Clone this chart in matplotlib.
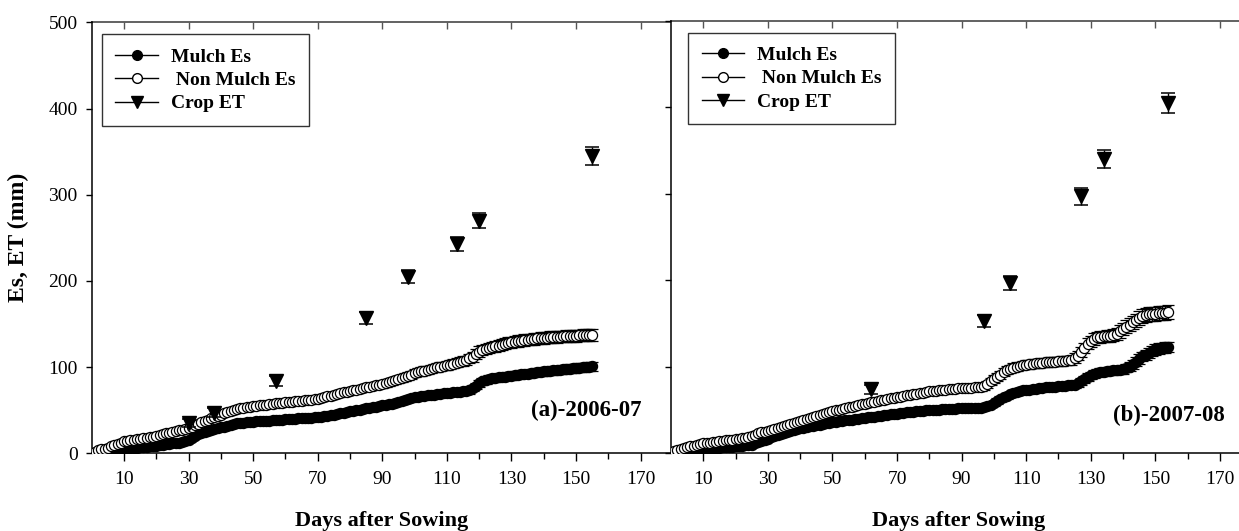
import matplotlib
matplotlib.use("Agg")
import matplotlib.pyplot as plt
from matplotlib.lines import Line2D
import numpy as np

plt.rcParams['font.family'] = ['Liberation Serif', 'DejaVu Serif']

# ---------------- data ----------------
# Panel (a) 2006-07 : daily cumulative soil evaporation (mm), days 1..155
days_a = list(range(1, 156))
mulch_a = [0.5, 1, 1.5, 2, 2.5, 3, 3.5, 4, 4.5, 5,
           5.4, 5.8, 6.2, 6.6, 7, 7.4, 7.8, 8.2, 8.6, 9,
           9.5, 10, 10.5, 11, 11.5, 12, 12.5, 13, 14.2, 16,
           18, 20, 22, 23.6, 25, 26, 27, 28, 29, 30,
           31, 32, 33, 34, 35, 35.4, 35.7, 36, 36.3, 36.6,
           36.9, 37.2, 37.5, 37.8, 38, 38.3, 38.6, 38.9, 39.1, 39.4,
           39.6, 39.9, 40.1, 40.4, 40.6, 40.9, 41.1, 41.4, 41.7, 42,
           42.6, 43.2, 43.8, 44.4, 45, 45.7, 46.4, 47.1, 47.8, 48.5,
           49.2, 49.9, 50.6, 51.3, 52, 52.7, 53.4, 54.1, 54.8, 55.5,
           56.2, 56.9, 57.6, 58.3, 59, 60.2, 61.4, 62.6, 63.8, 65,
           65.6, 66.2, 66.7, 67.2, 67.7, 68.2, 68.7, 69.2, 69.6, 70,
           70.4, 70.8, 71.2, 71.6, 72, 72.5, 73, 75.5, 78, 81,
           83.5, 85, 86, 86.8, 87.5, 88, 88.5, 89, 89.5, 90,
           90.5, 91, 91.5, 92, 92.5, 93, 93.5, 94, 94.5, 95,
           95.4, 95.8, 96.2, 96.6, 97, 97.4, 97.8, 98.2, 98.6, 99,
           99.4, 99.8, 100.2, 100.6, 101]
nonmulch_a = [2, 3.5, 4.5, 5.5, 6.5, 8, 9.5, 11, 12.5, 14,
              14.8, 15.4, 16, 16.5, 17, 17.5, 18, 18.6, 19.3, 20,
              21, 22, 23, 24, 25, 26, 26.8, 27.5, 28.2, 29,
              30.8, 32.5, 34.2, 36, 37.5, 39, 40.5, 42, 43.5, 45,
              46.5, 48, 49.2, 50.3, 51.2, 52, 52.7, 53.3, 54, 54.5,
              55, 55.5, 56, 56.5, 57, 57.4, 57.8, 58.2, 58.6, 59,
              59.4, 59.8, 60.2, 60.6, 61, 61.4, 61.8, 62.2, 62.6, 63,
              64, 65, 66, 67, 68, 69, 70, 70.8, 71.6, 72.4,
              73.2, 74, 74.8, 75.6, 76.4, 77.2, 78, 78.7, 79.4, 80,
              81, 82.2, 83.4, 84.6, 85.8, 87, 88.4, 89.8, 91.2, 92.6,
              94, 95, 96, 97, 98, 98.8, 99.6, 100.4, 101.2, 102,
              103, 104, 105, 106, 107, 108, 110, 112, 115, 118,
              120, 121.2, 122.2, 123.2, 124, 125, 126, 127, 128, 129,
              129.6, 130.2, 130.8, 131.3, 131.8, 132.3, 132.8, 133.2, 133.6, 134,
              134.3, 134.6, 134.9, 135.2, 135.4, 135.6, 135.8, 136, 136.2, 136.5,
              136.7, 136.9, 137.1, 137.3, 137.5]
et_days_a = [30, 38, 57, 85, 98, 113, 120, 155]
et_a = [35, 47, 84, 157, 205, 243, 270, 345]
et_err_a = [5, 5, 6, 7, 8, 8, 9, 10]

# Panel (b) 2007-08 : days 1..154
days_b = list(range(1, 155))
mulch_b = [0.5, 1, 1.5, 2, 2.5, 3, 3.5, 4, 4.5, 5,
           5.3, 5.6, 5.9, 6.2, 6.5, 6.8, 7.1, 7.4, 7.7, 8,
           8.4, 8.8, 9.2, 9.6, 10, 11.4, 12.8, 14.2, 15.6, 17,
           18.4, 19.8, 21.2, 22.6, 24, 25, 26, 27, 28, 29,
           29.7, 30.4, 31.1, 31.8, 32.5, 33.2, 33.9, 34.6, 35.3, 36,
           36.5, 37, 37.5, 38, 38.5, 39, 39.5, 40, 40.5, 41,
           41.5, 42, 42.5, 43, 43.5, 44, 44.5, 45, 45.5, 46,
           46.4, 46.8, 47.2, 47.6, 48, 48.4, 48.8, 49.2, 49.6, 50,
           50.2, 50.4, 50.6, 50.8, 51, 51.2, 51.4, 51.6, 51.8, 52,
           52.1, 52.3, 52.4, 52.6, 52.7, 52.9, 53, 54.5, 56, 58,
           60.5, 62.8, 65, 66.5, 68, 69.5, 70.8, 72, 72.6, 73.2,
           73.7, 74.3, 74.8, 75.4, 76, 76.3, 76.6, 76.9, 77.2, 77.5,
           77.8, 78.1, 78.4, 78.7, 79, 81, 83, 85.5, 88, 90,
           91.2, 92.4, 93.5, 94.3, 95, 95.4, 95.8, 96.2, 96.6, 97,
           98.5, 100, 103, 106, 109, 112, 114, 116, 118, 120,
           121, 121.8, 122.5, 123]
nonmulch_b = [3, 4, 5, 6, 7, 8, 9, 9.8, 10.6, 11.4,
              11.9, 12.4, 12.9, 13.4, 13.9, 14.4, 14.9, 15.4, 15.9, 16.3,
              16.9, 17.5, 18.2, 19, 20.3, 21.6, 22.9, 24.1, 25.1, 26,
              27.1, 28.2, 29.3, 30.4, 31.6, 32.8, 33.9, 35, 36.1, 37.3,
              38.4, 39.6, 40.7, 41.9, 43, 44.2, 45.3, 46.5, 47.6, 48.7,
              49.6, 50.5, 51.4, 52.3, 53.1, 54, 54.8, 55.7, 56.5, 57.3,
              58, 58.8, 59.6, 60.4, 61.2, 62, 62.7, 63.5, 64.2, 65,
              65.6, 66.3, 66.9, 67.6, 68.2, 68.9, 69.5, 70.2, 70.8, 71.5,
              71.9, 72.3, 72.7, 73.1, 73.5, 73.9, 74.3, 74.6, 75, 75.3,
              75.5, 75.7, 75.9, 76.1, 76.3, 76.4, 77.5, 80, 83, 86,
              88.5, 91, 93.5, 96, 97.5, 99, 100, 101, 102, 102.5,
              103, 103.5, 103.9, 104.3, 104.7, 105.1, 105.5, 105.8, 106.1, 106.4,
              106.7, 107, 107.3, 107.6, 110, 113, 117, 121.5, 126.5, 129.5,
              132, 134, 134.5, 135, 135.4, 135.8, 136.3, 138, 140.8, 143.7,
              146.2, 148.8, 151.3, 153.8, 156.4, 159, 160, 160.6, 161, 161.4,
              161.7, 162, 162.5, 163]
et_days_b = [62, 97, 105, 127, 134, 154]
et_b = [74, 153, 197, 297, 340, 405]
et_err_b = [5, 7, 8, 10, 10, 12]

x_major = [10, 30, 50, 70, 90, 110, 130, 150, 170]
x_minor = [20, 40, 60, 80, 100, 120, 140, 160]
y_major = [0, 100, 200, 300, 400, 500]
legend_labels = ['Mulch Es', ' Non Mulch Es', 'Crop ET']
panel_labels = ['(a)-2006-07', '(b)-2007-08']
xlabel = 'Days after Sowing'
ylabel = 'Es, ET (mm)'

# ---------------- styling ----------------
ES_REL_ERR = 0.05
W, H = 1239, 531
PX_PER_DAY = 3.229

fig = plt.figure(figsize=(W / 100, H / 100), dpi=100)


def rect(x0, x1, ytop, ybot):
    return [x0 / W, 1 - ybot / H, (x1 - x0) / W, (ybot - ytop) / H]


ax1 = fig.add_axes(rect(91.7, 671, 22.3, 453.3))
ax2 = fig.add_axes(rect(671, 1239, 20.7, 453.3))
ax1.set_xlim(0, (671 - 91.7) / PX_PER_DAY)
ax2.set_xlim(0, (1239 - 671) / PX_PER_DAY)

panels = [
    (ax1, days_a, mulch_a, nonmulch_a, et_days_a, et_a, et_err_a),
    (ax2, days_b, mulch_b, nonmulch_b, et_days_b, et_b, et_err_b),
]

for i, (ax, d, m, nm, ed, et, ee) in enumerate(panels):
    m = np.array(m)
    nm = np.array(nm)
    ax.errorbar(d, m, yerr=m * ES_REL_ERR, fmt='o-', color='black', ms=7.3,
                mfc='black', mec='black', mew=0.9, lw=1, elinewidth=0.9,
                capsize=4, capthick=0.9, zorder=2)
    ax.errorbar(d, nm, yerr=nm * ES_REL_ERR, fmt='o-', color='black', ms=7.3,
                mfc='white', mec='black', mew=0.9, lw=1, elinewidth=0.9,
                capsize=4, capthick=0.9, zorder=3)
    ax.errorbar(ed, et, yerr=ee, fmt='v', color='black', ms=10,
                mfc='black', mec='black', elinewidth=1, capsize=4.8,
                capthick=1.1, zorder=4)
    ax.set_ylim(0, 500)
    ax.set_yticks(y_major)
    ax.set_xticks(x_major)
    ax.set_xticks(x_minor, minor=True)
    ax.tick_params(axis='x', which='major', direction='out', length=6,
                   width=1, labelsize=14, pad=7, top=False)
    ax.tick_params(axis='x', which='minor', direction='out', length=4,
                   width=1, top=False)
    ax.tick_params(axis='y', which='major', direction='out', length=4,
                   width=1, labelsize=14, pad=6, right=False)
    if i == 1:
        ax.tick_params(axis='y', labelleft=False)
    for s in ['left', 'bottom']:
        ax.spines[s].set_linewidth(1.1)
        ax.spines[s].set_color('black')
    ax.spines['right'].set_visible(False)
    ax.spines['top'].set_visible(False)
    sec = ax.secondary_xaxis('top')
    sec.set_xticks(x_major)
    sec.tick_params(direction='in', length=5, width=1, labeltop=False,
                    color='#555555')
    sec.spines['top'].set_color('#555555')
    sec.spines['top'].set_linewidth(1.3)

    handles = [
        Line2D([], [], color='black', lw=1, marker='o', ms=7, mfc='black', mec='black'),
        Line2D([], [], color='black', lw=1, marker='o', ms=7, mfc='white', mec='black'),
        Line2D([], [], color='black', lw=1, marker='v', ms=8, mfc='black', mec='black'),
    ]
    off_x = 10 if i == 0 else 17
    ax_left_px = 91.7 if i == 0 else 671
    ax_top_px = 22.3 if i == 0 else 20.7
    leg = ax.legend(handles, legend_labels, loc='upper left',
                    bbox_to_anchor=((ax_left_px + off_x) / W, 1 - (ax_top_px + 12) / H),
                    bbox_transform=fig.transFigure, borderaxespad=0,
                    prop={'family': 'Liberation Serif', 'weight': 'bold', 'size': 14},
                    frameon=True, fancybox=False, edgecolor='black',
                    handlelength=2.2, handletextpad=0.65, labelspacing=0.3,
                    borderpad=0.7)
    leg.get_frame().set_linewidth(1.0)

fig.text(642 / W, 1 - 410 / H, panel_labels[0], ha='right', va='center',
         fontsize=16.5, fontweight='bold')
fig.text(1225 / W, 1 - 415 / H, panel_labels[1], ha='right', va='center',
         fontsize=16.5, fontweight='bold')
fig.text(381.5 / W, 1 - 521 / H, xlabel, ha='center', va='center',
         fontsize=16, fontweight='bold')
fig.text(959 / W, 1 - 521 / H, xlabel, ha='center', va='center',
         fontsize=16, fontweight='bold')
fig.text(18 / W, 1 - 237 / H, ylabel, ha='center', va='center', rotation=90,
         fontsize=17, fontweight='bold')

fig.savefig('out.png', dpi=100)
